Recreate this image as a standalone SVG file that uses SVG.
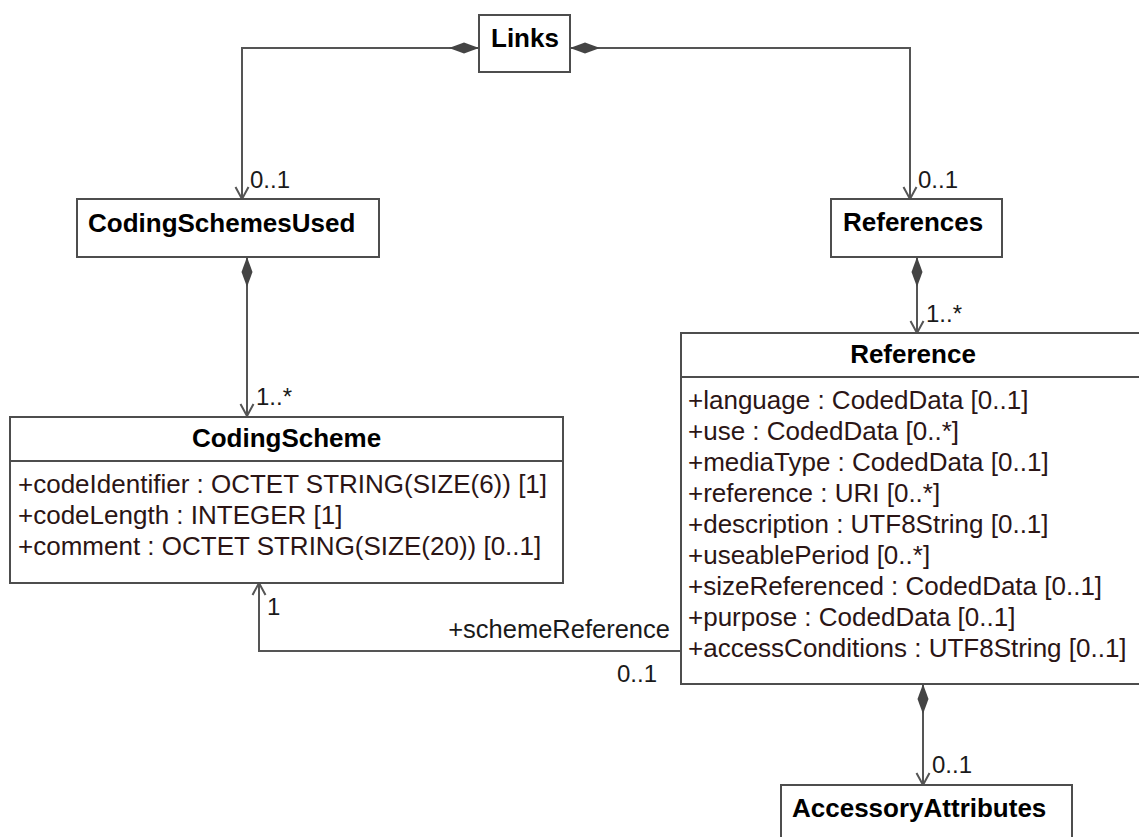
<svg xmlns="http://www.w3.org/2000/svg" width="1139" height="837" viewBox="0 0 1139 837">
<style>
.box{fill:#fff;stroke:#4d4d4d;stroke-width:2}
.sep{stroke:#4d4d4d;stroke-width:2}
.title{font-family:"Liberation Sans",Arial,sans-serif;font-weight:bold;font-size:26px;fill:#000}
.attr{font-family:"Liberation Sans",Arial,sans-serif;font-size:26px;fill:#2b1515}
.lbl{font-family:"Liberation Sans",Arial,sans-serif;font-size:24px;fill:#1a1a1a}
.role{font-family:"Liberation Sans",Arial,sans-serif;font-size:25.5px;fill:#1a1a1a}
.conn{fill:none;stroke:#555;stroke-width:2}
</style>
<defs>
<marker id="dia" markerUnits="userSpaceOnUse" markerWidth="32" markerHeight="14" viewBox="-1 -7 32 14" refX="0" refY="0" orient="auto">
<path d="M0,0 L15,-5.5 L30,0 L15,5.5 Z" fill="#444" stroke="none"/>
</marker>
<marker id="arr" markerUnits="userSpaceOnUse" markerWidth="16" markerHeight="18" viewBox="-14 -9 16 18" refX="0" refY="0" orient="auto">
<path d="M-12,-6.5 L0,0 L-12,6.5" fill="none" stroke="#555" stroke-width="2"/>
</marker>
</defs>
<g id="connectors">
<path class="conn" d="M479,48 H242 V199" marker-start="url(#dia)" marker-end="url(#arr)"/>
<path class="conn" d="M570,48 H910 V199" marker-start="url(#dia)" marker-end="url(#arr)"/>
<path class="conn" d="M247,257 V416" marker-start="url(#dia)" marker-end="url(#arr)"/>
<path class="conn" d="M917,257 V333" marker-start="url(#dia)" marker-end="url(#arr)"/>
<path class="conn" d="M923,684 V785" marker-start="url(#dia)" marker-end="url(#arr)"/>
<path class="conn" d="M681,651 H259 V583" marker-end="url(#arr)"/>
<text class="lbl" x="250" y="188">0..1</text>
<text class="lbl" x="918" y="188">0..1</text>
<text class="lbl" x="256" y="405">1..*</text>
<text class="lbl" x="926" y="322">1..*</text>
<text class="lbl" x="932" y="773">0..1</text>
<text class="lbl" x="267" y="615">1</text>
<text class="role" x="670" y="638" text-anchor="end">+schemeReference</text>
<text class="lbl" x="657" y="682" text-anchor="end">0..1</text>
</g>
<g id="Links">
<rect class="box" x="479" y="15" width="91" height="57"/>
<text class="title" x="491" y="47">Links</text>
</g>
<g id="CodingSchemesUsed">
<rect class="box" x="77" y="199" width="302" height="58"/>
<text class="title" x="88" y="232">CodingSchemesUsed</text>
</g>
<g id="References">
<rect class="box" x="831" y="199" width="171" height="58"/>
<text class="title" x="843" y="231">References</text>
</g>
<g id="CodingScheme">
<rect class="box" x="10" y="417" width="553" height="166"/>
<line class="sep" x1="10" y1="461" x2="563" y2="461"/>
<text class="title" x="286.5" y="447" text-anchor="middle">CodingScheme</text>
<text class="attr" x="18" y="493">+codeIdentifier : OCTET STRING(SIZE(6)) [1]</text>
<text class="attr" x="18" y="524">+codeLength : INTEGER [1]</text>
<text class="attr" x="18" y="555">+comment : OCTET STRING(SIZE(20)) [0..1]</text>
</g>
<g id="Reference">
<rect class="box" x="681" y="333" width="465" height="351"/>
<line class="sep" x1="681" y1="377" x2="1146" y2="377"/>
<text class="title" x="913" y="363" text-anchor="middle">Reference</text>
<text class="attr" x="688" y="409">+language : CodedData [0..1]</text>
<text class="attr" x="688" y="440">+use : CodedData [0..*]</text>
<text class="attr" x="688" y="471">+mediaType : CodedData [0..1]</text>
<text class="attr" x="688" y="502">+reference : URI [0..*]</text>
<text class="attr" x="688" y="533">+description : UTF8String [0..1]</text>
<text class="attr" x="688" y="564">+useablePeriod [0..*]</text>
<text class="attr" x="688" y="595">+sizeReferenced : CodedData [0..1]</text>
<text class="attr" x="688" y="626">+purpose : CodedData [0..1]</text>
<text class="attr" x="688" y="657">+accessConditions : UTF8String [0..1]</text>
</g>
<g id="AccessoryAttributes">
<rect class="box" x="781" y="785" width="291" height="80"/>
<text class="title" x="792" y="817">AccessoryAttributes</text>
</g>
</svg>
